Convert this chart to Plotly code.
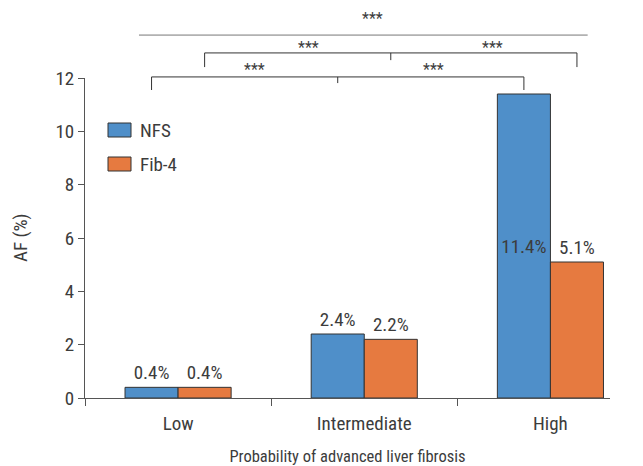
import plotly.graph_objects as go

categories = ["Low", "Intermediate", "High"]
series_names = ["NFS", "Fib-4"]
nfs_values = [0.4, 2.4, 11.4]
fib4_values = [0.4, 2.2, 5.1]
y_ticks = [0, 2, 4, 6, 8, 10, 12]

colors = ["#4F8FC9", "#E67A40"]
FONT = "Liberation Sans Narrow, Roboto Condensed, Arial Narrow, Roboto, sans-serif"
TXT = "#3c3c3c"
FS = 19
YMAX = 12
BAR_W = 0.285
OFF = BAR_W / 2
PW, PH = 525, 320          # plot area size in px
L0, T0 = 85, 78            # plot area origin in the reference window

fig = go.Figure()
for name, vals, col, pos in [
    (series_names[0], nfs_values, colors[0], ["outside", "outside", "inside"]),
    (series_names[1], fib4_values, colors[1], ["outside", "outside", "outside"]),
]:
    fig.add_trace(go.Bar(
        name=name, x=categories, y=vals,
        marker=dict(color=col, line=dict(color="#333333", width=1)),
        text=[f"{v:.1f}%" for v in vals], textposition=pos,
        insidetextanchor="middle", constraintext="none", textangle=0,
        textfont=dict(family=FONT, size=FS, color=TXT),
        showlegend=False, cliponaxis=False,
    ))

# significance brackets: (x_start, x_end, line level, end drop, mid x, mid drop, text xs, text level)
brackets = [
    (0 - OFF, 2 - OFF, 12.04, 0.49, 1 - OFF, 0.23, [0.41, 1.37], 12.30),
    (0 + OFF, 2 + OFF, 12.94, 0.53, 1 + OFF, 0.27, [0.70, 1.69], 13.15),
    (-0.21, 2.20, 13.61, 0.0, None, 0.0, [1.045], 14.22),
]
shapes = []
annotations = []
for x0, x1, lvl, drop, xm, mdrop, txs, ty in brackets:
    col = "#333333" if drop > 0 else "#777777"
    shapes.append(dict(type="line", xref="x", yref="paper", x0=x0, x1=x1,
                       y0=lvl / YMAX, y1=lvl / YMAX, line=dict(color=col, width=1)))
    if drop > 0:
        for xx in (x0, x1):
            shapes.append(dict(type="line", xref="x", yref="paper", x0=xx, x1=xx,
                               y0=lvl / YMAX, y1=(lvl - drop) / YMAX,
                               line=dict(color=col, width=1)))
    if xm is not None:
        shapes.append(dict(type="line", xref="x", yref="paper", x0=xm, x1=xm,
                           y0=lvl / YMAX, y1=(lvl - mdrop) / YMAX,
                           line=dict(color=col, width=1)))
    for tx in txs:
        annotations.append(dict(text="***", xref="x", yref="paper", x=tx, y=ty / YMAX,
                                xanchor="center", yanchor="middle",
                                showarrow=False, font=dict(family=FONT, size=16, color=TXT)))

# custom legend
for i, (name, col) in enumerate(zip(series_names, colors)):
    top = 123 + i * 34
    shapes.append(dict(type="rect", xref="paper", yref="paper",
                       x0=(108 - L0) / PW, x1=(131 - L0) / PW,
                       y0=(T0 + PH - top) / PH, y1=(T0 + PH - top - 14) / PH,
                       fillcolor=col, line=dict(color="#333333", width=1)))
    annotations.append(dict(text=name, xref="paper", yref="paper",
                            x=(138 - L0) / PW, y=(T0 + PH - top - 7) / PH,
                            xanchor="left", yanchor="middle", showarrow=False,
                            font=dict(family=FONT, size=FS, color=TXT)))

# y axis title
annotations.append(dict(text="AF (%)", xref="paper", yref="paper",
                        x=(20 - L0) / PW, y=0.5, textangle=-90,
                        xanchor="center", yanchor="middle", showarrow=False,
                        font=dict(family=FONT, size=FS, color=TXT)))

# page body has an 8px margin: shrink the figure so the plot lands where it should
BODY = 8
fig.update_layout(
    width=643 - BODY, height=466 - BODY,
    margin=dict(l=L0 - BODY, r=643 - L0 - PW, t=T0 - BODY, b=466 - T0 - PH),
    paper_bgcolor="white", plot_bgcolor="white",
    barmode="group", bargap=0.43, bargroupgap=0,
    font=dict(family=FONT, size=FS, color=TXT),
    shapes=shapes, annotations=annotations,
    xaxis=dict(range=[-0.5, 2.32], showline=True, linecolor="#555555", linewidth=1,
               ticks="outside", tickson="boundaries", ticklen=7, tickcolor="#555555",
               showgrid=False, zeroline=False, automargin=False, ticklabelstandoff=8,
               title=dict(text="Probability of advanced liver fibrosis", standoff=16,
                          font=dict(family=FONT, size=16.5, color=TXT)),
               tickfont=dict(family=FONT, size=FS, color=TXT)),
    yaxis=dict(range=[0, YMAX], tickvals=y_ticks, showline=True, linecolor="#555555",
               linewidth=1, ticks="outside", ticklen=6, tickcolor="#555555",
               showgrid=False, zeroline=False, automargin=False,
               tickfont=dict(family=FONT, size=FS, color=TXT)),
)

fig.write_html("out.html")
